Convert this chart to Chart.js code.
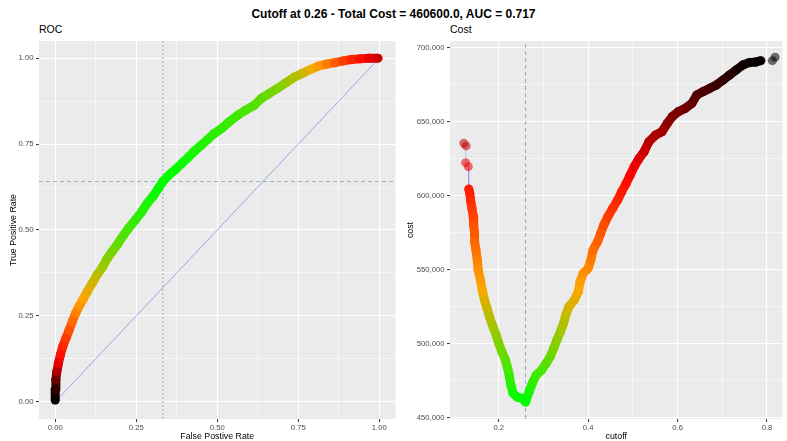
<!DOCTYPE html>
<html>
<head>
<meta charset="utf-8">
<script src="https://cdn.jsdelivr.net/npm/chart.js@4.4.1/dist/chart.umd.min.js"></script>
<style>
  body { margin: 0; background: #fff; font-family: "Liberation Sans", Arial, sans-serif; }
  #page { position: relative; width: 787px; height: 441px; overflow: hidden; }
  #mainTitle { position: absolute; left: 0; top: 8px; width: 787px; text-align: center; font-weight: bold; font-size: 12px; line-height: 12px; color: #000; }
  .panelTitle { position: absolute; top: 24px; font-size: 10.5px; line-height: 10.5px; color: #000; }
  canvas { position: absolute; top: 36px; }
</style>
</head>
<body>
<div id="page">
  <div id="mainTitle"></div>
  <div class="panelTitle" style="left:39px">ROC</div>
  <div class="panelTitle" style="left:450px">Cost</div>
  <canvas id="rocChart" width="400" height="405" style="left:0"></canvas>
  <canvas id="costChart" width="387" height="405" style="left:400px"></canvas>
</div>
<script>
// ROC curve (false / true positive rate) with the cost at each point
const rocFpr = [0.000, 0.000, 0.002, 0.005, 0.010, 0.016, 0.024, 0.033, 0.043, 0.053,
                0.063, 0.073, 0.086, 0.099, 0.114, 0.129, 0.145, 0.160, 0.175, 0.193,
                0.202, 0.211, 0.226, 0.247, 0.267, 0.284, 0.303, 0.318, 0.332, 0.351,
                0.371, 0.391, 0.410, 0.430, 0.451, 0.471, 0.491, 0.514, 0.537, 0.563,
                0.588, 0.614, 0.636, 0.660, 0.685, 0.711, 0.736, 0.761, 0.787, 0.812,
                0.838, 0.863, 0.889, 0.914, 0.940, 0.968, 0.996];
const rocTpr = [0.005, 0.035, 0.064, 0.088, 0.112, 0.137, 0.163, 0.185, 0.209, 0.234,
                0.258, 0.277, 0.298, 0.321, 0.345, 0.369, 0.391, 0.416, 0.437, 0.459,
                0.473, 0.485, 0.505, 0.529, 0.553, 0.578, 0.599, 0.621, 0.641, 0.660,
                0.676, 0.694, 0.711, 0.730, 0.747, 0.764, 0.781, 0.796, 0.815, 0.834,
                0.849, 0.863, 0.883, 0.897, 0.912, 0.928, 0.944, 0.955, 0.967, 0.977,
                0.983, 0.987, 0.992, 0.996, 0.998, 1.000, 1.000];
const rocCost = [693000, 685000, 665000, 645000, 625000, 612000, 600000, 590000, 578000, 568000,
                 558000, 548000, 540000, 532000, 525000, 518000, 510000, 503000, 497000, 492000,
                 488000, 485000, 481000, 477000, 473000, 469000, 466000, 463000, 461000, 462000,
                 463000, 464000, 466000, 468000, 470000, 472000, 474000, 476000, 478000, 480000,
                 483000, 486000, 489000, 493000, 498000, 505000, 512000, 520000, 530000, 542000,
                 556000, 570000, 585000, 598000, 607000, 620000, 635000];

// total cost by cutoff
const cutoffs = [0.122, 0.127, 0.126, 0.132, 0.133, 0.135, 0.137, 0.140, 0.143, 0.144,
                 0.146, 0.146, 0.149, 0.152, 0.154, 0.159, 0.163, 0.168, 0.174, 0.179,
                 0.187, 0.194, 0.200, 0.207, 0.215, 0.220, 0.224, 0.227, 0.232, 0.242,
                 0.253, 0.260, 0.268, 0.275, 0.284, 0.296, 0.306, 0.315, 0.323, 0.330,
                 0.338, 0.345, 0.350, 0.357, 0.369, 0.378, 0.382, 0.389, 0.400, 0.406,
                 0.411, 0.421, 0.428, 0.435, 0.444, 0.455, 0.466, 0.475, 0.485, 0.494,
                 0.503, 0.514, 0.525, 0.536, 0.551, 0.565, 0.577, 0.588, 0.602, 0.617,
                 0.632, 0.643, 0.657, 0.672, 0.687, 0.702, 0.716, 0.731, 0.746, 0.760,
                 0.775, 0.786, 0.812, 0.818];
const costs = [635400, 633600, 622300, 619600, 604500, 602000, 597100, 591500, 585800, 580200,
               574600, 568900, 563300, 556500, 549800, 543000, 536300, 529500, 523900, 518300,
               511500, 505900, 500200, 494600, 489000, 483400, 477700, 472100, 466500, 463800,
               463100, 460600, 467600, 473200, 478900, 482200, 486700, 491200, 496900, 502500,
               508100, 513800, 519400, 525000, 529500, 535200, 541900, 547500, 550900, 556500,
               563300, 568900, 574600, 580200, 585800, 591500, 597100, 602700, 608300, 614000,
               619600, 625200, 629700, 636500, 641000, 643200, 648900, 653400, 656800, 659000,
               662400, 668000, 670300, 672500, 674800, 678200, 681500, 684900, 688300, 689900,
               690300, 691200, 691200, 693500];

const bestCutoff = 0.26;
const bestFpr = 0.332;
const bestTpr = 0.641;
const totalCost = 460600;
const auc = 0.717;

const rateTicks = [0, 0.25, 0.5, 0.75, 1];
const cutoffTicks = [0.2, 0.4, 0.6, 0.8];
const costTicks = [450000, 500000, 550000, 600000, 650000, 700000];

document.getElementById('mainTitle').textContent =
    `Cutoff at ${bestCutoff} - Total Cost = ${totalCost.toFixed(1)}, AUC = ${auc}`;

Chart.defaults.font.family = "'Liberation Sans', Arial, sans-serif";

// green -> orange -> red -> black over the cost range
const allCosts = costs.concat(rocCost);
const costLo = Math.min(...allCosts);
const costHi = Math.max(...allCosts);
const stops = [[0, [0, 255, 0]], [1 / 3, [255, 165, 0]], [2 / 3, [255, 0, 0]], [1, [0, 0, 0]]];

function costColor(v, alpha) {
    const t = Math.min(1, Math.max(0, (v - costLo) / (costHi - costLo)));
    let i = 0;
    while (i < stops.length - 2 && t > stops[i + 1][0]) i++;
    const [t0, c0] = stops[i];
    const [t1, c1] = stops[i + 1];
    const f = (t - t0) / (t1 - t0);
    const c = c0.map((a, k) => Math.round(a + (c1[k] - a) * f));
    return `rgba(${c[0]},${c[1]},${c[2]},${alpha})`;
}

// thick coloured band under the points; isolated points at the ends are left
// as single translucent dots
function bandColor(values, gap) {
    return ctx => {
        const i = ctx.p0DataIndex, j = ctx.p1DataIndex;
        const pts = ctx.chart ? ctx.chart.getDatasetMeta(ctx.datasetIndex).data : null;
        const near = (a, b) => {
            const p = pts ? pts[a] : (a === i ? ctx.p0 : ctx.p1);
            const q = pts ? pts[b] : (b === i ? ctx.p0 : ctx.p1);
            return !!(p && q) && Math.hypot(p.x - q.x, p.y - q.y) <= gap;
        };
        const dense = k => !pts || (near(k, k - 1) && near(k, k + 1));
        if (!near(i, j) || !(dense(i) || dense(j))) return 'rgba(0,0,0,0)';
        return costColor((values[i] + values[j]) / 2, 1);
    };
}

function allTicks(major, min, max) {
    const step = major[1] - major[0];
    const out = major.slice();
    for (let i = -1; i < major.length; i++) {
        const m = major[0] + (i + 0.5) * step;
        if (m >= min && m <= max) out.push(m);
    }
    return out.sort((a, b) => a - b);
}

function makeAxis(major, min, max, fmt, title, isX, size, titlePad) {
    const step = major[1] - major[0];
    const isMajor = v => major.some(m => Math.abs(m - v) < step * 1e-6);
    const ticks = allTicks(major, min, max);
    return {
        type: 'linear',
        min: min,
        max: max,
        afterBuildTicks: s => { s.ticks = ticks.map(v => ({ value: v })); },
        afterFit: s => {
            if (isX) s.height = size; else s.width = size;
            s.paddingLeft = s.paddingRight = s.paddingTop = s.paddingBottom = 0;
        },
        border: { display: false },
        grid: {
            color: '#FFFFFF',
            lineWidth: c => isMajor(c.tick.value) ? 1.1 : 0.55,
            tickColor: c => isMajor(c.tick.value) ? '#333333' : 'rgba(0,0,0,0)',
            tickWidth: 1,
            tickLength: 3
        },
        ticks: {
            autoSkip: false,
            maxRotation: 0,
            padding: isX ? 1 : 2.5,
            color: '#4D4D4D',
            font: { size: 7.7 },
            callback: v => isMajor(v) ? fmt(v) : ''
        },
        title: {
            display: true,
            text: title,
            color: '#000',
            font: { size: 8.8, lineHeight: 1.1 },
            padding: isX ? { top: 0, bottom: 0 } : { top: titlePad, bottom: 0 }
        }
    };
}

const panelBackground = {
    id: 'panelBackground',
    beforeDraw(chart) {
        const a = chart.chartArea;
        chart.ctx.save();
        chart.ctx.fillStyle = '#EBEBEB';
        chart.ctx.fillRect(a.left, a.top, a.right - a.left, a.bottom - a.top);
        chart.ctx.restore();
    }
};

function baseOptions(padRight, xAxis, yAxis) {
    return {
        responsive: false,
        animation: false,
        events: [],
        layout: { padding: { top: 5, left: 0, right: padRight, bottom: 0 } },
        plugins: { legend: { display: false }, tooltip: { enabled: false } },
        scales: { x: xAxis, y: yAxis }
    };
}

// ROC panel
const rocPoints = rocFpr.map((x, i) => ({ x: x, y: rocTpr[i] }));
const rateMin = -0.05, rateMax = 1.05;

new Chart(document.getElementById('rocChart'), {
    type: 'scatter',
    data: {
        datasets: [
            {
                data: rocPoints, order: 0, showLine: false,
                pointRadius: 4.5, pointBorderWidth: 0,
                pointBackgroundColor: rocCost.map(v => costColor(v, 0.55))
            },
            {
                data: rocPoints, order: 1, showLine: true, pointRadius: 0,
                borderWidth: 9, borderCapStyle: 'round', borderJoinStyle: 'round',
                borderColor: 'rgba(0,0,0,0)', segment: { borderColor: bandColor(rocCost, 11) }
            },
            {
                data: [{ x: 0, y: 0 }, { x: 1, y: 1 }], order: 2, showLine: true, pointRadius: 0,
                borderColor: 'rgba(65,105,225,0.65)', borderWidth: 0.8
            },
            {
                data: [{ x: bestFpr, y: rateMin }, { x: bestFpr, y: rateMax }], order: 3, showLine: true,
                pointRadius: 0, borderColor: 'rgba(110,130,160,0.6)', borderWidth: 1, borderDash: [2, 2]
            },
            {
                data: [{ x: rateMin, y: bestTpr }, { x: rateMax, y: bestTpr }], order: 3, showLine: true,
                pointRadius: 0, borderColor: 'rgba(110,130,160,0.6)', borderWidth: 1, borderDash: [4, 3]
            }
        ]
    },
    options: baseOptions(2,
        makeAxis(rateTicks, rateMin, rateMax, v => v.toFixed(2), 'False Postive Rate', true, 22),
        makeAxis(rateTicks, rateMin, rateMax, v => v.toFixed(2), 'True Positive Rate', false, 39, 9)),
    plugins: [panelBackground]
});

// Cost panel
const costPoints = cutoffs.map((x, i) => ({ x: x, y: costs[i] }));
const cutMin = 0.091, cutMax = 0.8346;
const costMin = 449100, costMax = 704500;

new Chart(document.getElementById('costChart'), {
    type: 'scatter',
    data: {
        datasets: [
            {
                data: costPoints, order: 0, showLine: false,
                pointRadius: 4.5, pointBorderWidth: 0,
                pointBackgroundColor: costs.map(v => costColor(v, 0.55))
            },
            {
                data: costPoints, order: 1, showLine: true, pointRadius: 0,
                borderWidth: 9, borderCapStyle: 'round', borderJoinStyle: 'round',
                borderColor: 'rgba(0,0,0,0)', segment: { borderColor: bandColor(costs, 11.5) }
            },
            {
                data: costPoints, order: 2, showLine: true, pointRadius: 0,
                borderColor: 'rgba(100,100,255,0.35)', borderWidth: 1
            },
            {
                data: [{ x: bestCutoff, y: costMin }, { x: bestCutoff, y: costMax }], order: 3, showLine: true,
                pointRadius: 0, borderColor: 'rgba(70,130,200,0.6)', borderWidth: 1, borderDash: [4, 3]
            }
        ]
    },
    options: baseOptions(0,
        makeAxis(cutoffTicks, cutMin, cutMax, v => v.toFixed(1), 'cutoff', true, 22),
        makeAxis(costTicks, costMin, costMax, v => v.toLocaleString('en-US'), 'cost', false, 50, 6)),
    plugins: [panelBackground]
});
</script>
</body>
</html>
